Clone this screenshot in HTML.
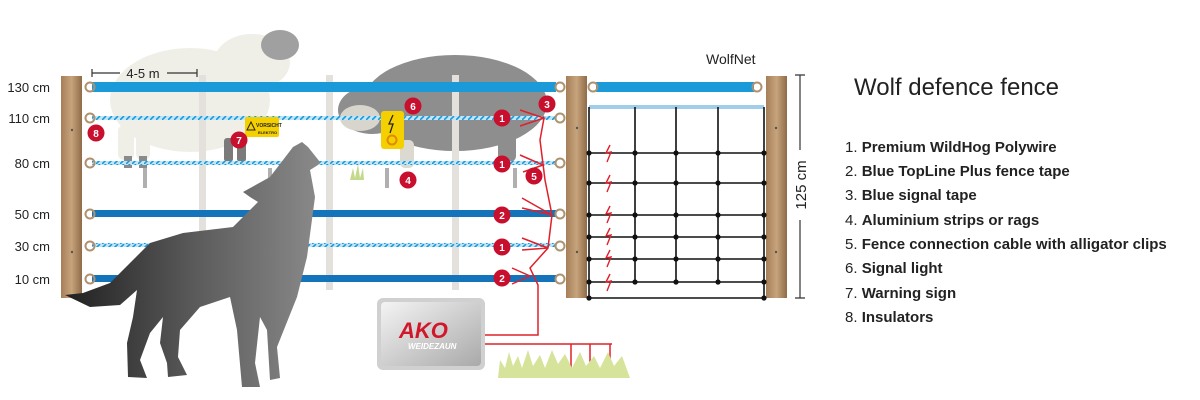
<!DOCTYPE html>
<html><head><meta charset="utf-8"><style>
html,body{margin:0;padding:0;background:#fff;}
svg{display:block;font-family:"Liberation Sans",sans-serif;}
</style></head><body>
<svg width="1200" height="400" viewBox="0 0 1200 400" xmlns="http://www.w3.org/2000/svg">
<defs>
<linearGradient id="post" x1="0" x2="1"><stop offset="0" stop-color="#a57e58"/><stop offset="0.5" stop-color="#c7a47c"/><stop offset="1" stop-color="#8f6b48"/></linearGradient>
<linearGradient id="wolf" gradientUnits="userSpaceOnUse" x1="60" y1="0" x2="320" y2="0"><stop offset="0" stop-color="#1e1e1e"/><stop offset="0.55" stop-color="#5e5e5e"/><stop offset="1" stop-color="#8a8a8a"/></linearGradient>
<linearGradient id="ako" x1="0" y1="0" x2="1" y2="1"><stop offset="0" stop-color="#f4f4f4"/><stop offset="1" stop-color="#a9a9a9"/></linearGradient>
<pattern id="poly" width="6" height="4" patternUnits="userSpaceOnUse"><rect width="6" height="4" fill="#bfe6f8"/><path d="M0 4L4 0" stroke="#1a9ad9" stroke-width="1.6"/></pattern>
<g id="r"><circle cx="589" cy="0" r="2.6"/><circle cx="635" cy="0" r="2.6"/><circle cx="676" cy="0" r="2.6"/><circle cx="718" cy="0" r="2.6"/><circle cx="764" cy="0" r="2.6"/></g>
</defs>

<!-- sheep left (light) -->
<g fill="#f0efe7">
<ellipse cx="190" cy="100" rx="80" ry="52"/>
<ellipse cx="252" cy="62" rx="38" ry="28"/>
<rect x="118" y="125" width="16" height="35" rx="6"/><rect x="136" y="125" width="14" height="35" rx="6"/>
</g>
<ellipse cx="280" cy="45" rx="19" ry="15" fill="#a0a0a0"/>
<rect x="224" y="138" width="9" height="24" rx="3" fill="#7b7b7b"/><rect x="237" y="138" width="9" height="24" rx="3" fill="#7b7b7b"/>
<rect x="124" y="156" width="8" height="12" fill="#8a8a8a"/><rect x="139" y="156" width="8" height="12" fill="#8a8a8a"/>
<!-- sheep right (gray) -->
<g fill="#8e8e8e">
<ellipse cx="455" cy="103" rx="92" ry="48"/>
<ellipse cx="372" cy="110" rx="34" ry="24"/>
<rect x="498" y="120" width="18" height="42" rx="6"/>
</g>
<ellipse cx="360" cy="118" rx="20" ry="13" fill="#d8d6cc"/>
<rect x="400" y="140" width="14" height="28" rx="5" fill="#dcdad0"/>
<path d="M350 180 l3 -12 l2 10 l3 -14 l2 14 l3 -10 l1 12z" fill="#c4d98c"/>
<g fill="#b0b0b0"><rect x="143" y="168" width="4" height="20"/><rect x="268" y="168" width="4" height="20"/><rect x="385" y="168" width="4" height="20"/><rect x="513" y="168" width="4" height="20"/></g>

<!-- intermediate posts -->
<g fill="#e4e0dc"><rect x="199" y="75" width="7" height="215"/><rect x="326" y="75" width="7" height="215"/><rect x="452" y="75" width="7" height="215"/></g>

<!-- posts -->
<rect x="61" y="76" width="21" height="222" fill="url(#post)"/>
<rect x="566" y="76" width="21" height="222" fill="url(#post)"/>
<rect x="766" y="76" width="21" height="222" fill="url(#post)"/>
<g fill="#555"><circle cx="72" cy="130" r="1.2"/><circle cx="72" cy="252" r="1.2"/><circle cx="577" cy="128" r="1.2"/><circle cx="577" cy="252" r="1.2"/><circle cx="776" cy="128" r="1.2"/><circle cx="776" cy="252" r="1.2"/></g>

<!-- wires -->
<rect x="92" y="82" width="464" height="10" fill="#1a9ad9"/>
<rect x="92" y="116" width="464" height="4" fill="url(#poly)"/>
<rect x="92" y="161" width="464" height="4" fill="url(#poly)"/>
<rect x="92" y="210" width="464" height="7" fill="#1474bb"/>
<rect x="92" y="243" width="464" height="4" fill="url(#poly)"/>
<rect x="92" y="275" width="464" height="7" fill="#1474bb"/>
<rect x="596" y="82" width="158" height="10" fill="#1a9ad9"/>
<g fill="none" stroke="#b0916f" stroke-width="2">
<circle cx="90" cy="87" r="4.5"/><circle cx="90" cy="118" r="4.5"/><circle cx="90" cy="163" r="4.5"/><circle cx="90" cy="214" r="4.5"/><circle cx="90" cy="246" r="4.5"/><circle cx="90" cy="279" r="4.5"/>
<circle cx="560" cy="87" r="4.5"/><circle cx="560" cy="118" r="4.5"/><circle cx="560" cy="163" r="4.5"/><circle cx="560" cy="214" r="4.5"/><circle cx="560" cy="246" r="4.5"/><circle cx="560" cy="279" r="4.5"/>
<circle cx="593" cy="87" r="4.5"/><circle cx="757" cy="87" r="4.5"/>
</g>

<!-- net -->
<rect x="589" y="105" width="175" height="4" fill="#9fcdea"/>
<g stroke="#111" stroke-width="1.6" fill="none">
<path d="M589 107V298M635 107V282M676 107V282M718 107V282M764 107V298"/>
<path d="M589 153H764M589 183H764M589 215H764M589 237H764M589 259H764M589 282H764M589 298H764"/>
</g>
<g fill="#111">
<use href="#r" y="153"/><use href="#r" y="183"/><use href="#r" y="215"/><use href="#r" y="237"/><use href="#r" y="259"/><use href="#r" y="282"/>
<circle cx="589" cy="298" r="2.6"/><circle cx="764" cy="298" r="2.6"/>
</g>
<g fill="none" stroke="#e0202a" stroke-width="1.4">
<path d="M610 145l-4 8 5 -1 -4 10"/><path d="M610 175l-4 8 5 -1 -4 10"/><path d="M610 206l-4 8 5 -1 -4 10"/><path d="M610 228l-4 8 5 -1 -4 10"/><path d="M610 250l-4 8 5 -1 -4 10"/><path d="M610 274l-4 8 5 -1 -4 10"/>
</g>
<path d="M795 75H805M800 75V150M800 220V298M795 298H805" stroke="#333" stroke-width="1.2"/>
<text transform="translate(806,185) rotate(-90)" text-anchor="middle" font-size="15" fill="#222">125 cm</text>
<text x="706" y="64" font-size="14" fill="#222">WolfNet</text>

<!-- red cable -->
<g fill="none" stroke="#e0202a" stroke-width="1.5">
<path d="M485 335H538V285L530 268L548 248L552 215L545 180L540 140L544 118"/>
<path d="M520 110L544 118L520 126"/><path d="M520 155L543 165L523 172"/><path d="M522 198L552 215L522 208"/><path d="M522 238L548 248L522 250"/><path d="M512 268L530 276L512 284"/>
<path d="M485 344H612M571 344V372M590 344V372M610 344V372"/>
</g>
<path d="M498 378L500 360L505 368L509 352L513 366L518 356L522 368L528 350L533 366L540 355L545 368L552 350L558 364L565 354L572 368L580 352L586 366L594 356L600 368L608 352L614 366L622 356L630 378Z" fill="#d6e39a"/>

<!-- AKO box -->
<rect x="377" y="298" width="108" height="72" rx="6" fill="#d0d0d0"/>
<rect x="381" y="302" width="100" height="64" rx="4" fill="url(#ako)"/>
<text x="399" y="338" font-size="22" font-weight="bold" font-style="italic" fill="#d0182a">AKO</text>
<text x="408" y="349" font-size="8" font-weight="bold" font-style="italic" fill="#fff">WEIDEZAUN</text>

<!-- warning sign, signal light -->
<rect x="245" y="117" width="34" height="20" rx="2" fill="#f5d000"/>
<text x="256" y="127" font-size="5" font-weight="bold" fill="#222">VORSICHT</text>
<text x="258" y="134" font-size="4" font-weight="bold" fill="#222">ELEKTRO</text>
<path d="M247 130l4 -8 4 8z" fill="none" stroke="#222" stroke-width="1"/>
<rect x="381" y="111" width="23" height="38" rx="3" fill="#f5d000"/>
<path d="M393 115l-4 9h4l-3 9" stroke="#222" stroke-width="1.3" fill="none"/>
<circle cx="392" cy="140" r="4.5" fill="none" stroke="#e08a00" stroke-width="2"/>

<!-- wolf -->
<path d="M65 295 L90 307 L120 305 L137 290 L133 317 L127 343 L128 377 L147 378 L140 360 L150 333 L163 317 L160 343 L167 363 L168 377 L187 375 L178 357 L180 330 L200 307 L230 297 L237 330 L242 387 L260 387 L255 363 L260 317 L267 330 L270 380 L280 378 L277 347 L297 297 L307 257 L315 197 L310 170 L318 165 L320 162 L308 147 L302 142 L293 147 L270 177 L243 192 L250 197 L258 202 L233 227 L183 233 L150 243 L130 263 L110 283 L83 293 Z" fill="url(#wolf)"/>

<!-- height labels -->
<g font-size="13" fill="#222" text-anchor="end">
<text x="50" y="92">130 cm</text><text x="50" y="123">110 cm</text><text x="50" y="168">80 cm</text><text x="50" y="219">50 cm</text><text x="50" y="251">30 cm</text><text x="50" y="284">10 cm</text>
</g>
<path d="M92 69V77M92 73H120M167 73H197M197 69V77" stroke="#333" stroke-width="1.2"/>
<text x="143" y="78" font-size="13" fill="#222" text-anchor="middle">4-5 m</text>

<!-- red number badges -->
<g font-size="10" font-weight="bold" fill="#fff" text-anchor="middle">
<g fill="#c8102e"><circle cx="502" cy="118" r="8.5"/><circle cx="502" cy="164" r="8.5"/><circle cx="502" cy="215" r="8.5"/><circle cx="502" cy="247" r="8.5"/><circle cx="502" cy="278" r="8.5"/><circle cx="547" cy="104" r="8.5"/><circle cx="413" cy="106" r="8.5"/><circle cx="239" cy="140" r="8.5"/><circle cx="96" cy="133" r="8.5"/><circle cx="408" cy="180" r="8.5"/><circle cx="534" cy="176" r="8.5"/></g>
<text x="502" y="122">1</text><text x="502" y="168">1</text><text x="502" y="219">2</text><text x="502" y="251">1</text><text x="502" y="282">2</text><text x="547" y="108">3</text><text x="413" y="110">6</text><text x="239" y="144">7</text><text x="96" y="137">8</text><text x="408" y="184">4</text><text x="534" y="180">5</text>
</g>

<!-- legend -->
<text x="854" y="95" font-size="24" fill="#222">Wolf defence fence</text>
<g font-size="15" fill="#222">
<text x="845" y="152">1. <tspan font-weight="bold">Premium WildHog Polywire</tspan></text>
<text x="845" y="176">2. <tspan font-weight="bold">Blue TopLine Plus fence tape</tspan></text>
<text x="845" y="200">3. <tspan font-weight="bold">Blue signal tape</tspan></text>
<text x="845" y="225">4. <tspan font-weight="bold">Aluminium strips or rags</tspan></text>
<text x="845" y="249">5. <tspan font-weight="bold">Fence connection cable with alligator clips</tspan></text>
<text x="845" y="273">6. <tspan font-weight="bold">Signal light</tspan></text>
<text x="845" y="298">7. <tspan font-weight="bold">Warning sign</tspan></text>
<text x="845" y="322">8. <tspan font-weight="bold">Insulators</tspan></text>
</g>
</svg>
</body></html>
